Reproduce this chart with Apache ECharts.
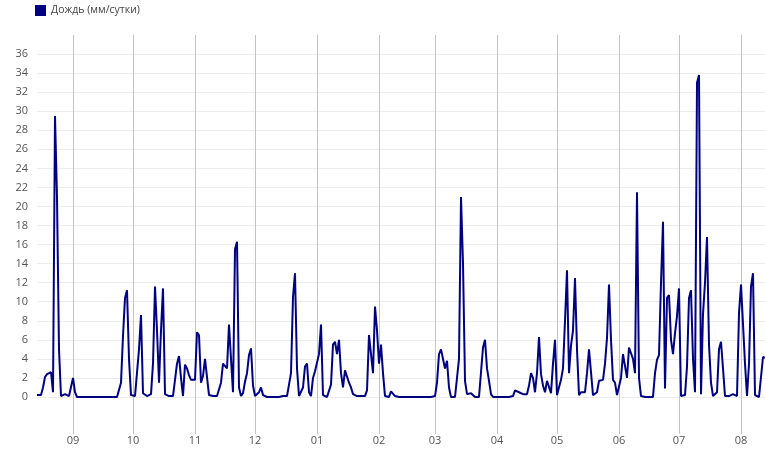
<!DOCTYPE html>
<html>
<head>
<meta charset="utf-8">
<script src="https://cdn.jsdelivr.net/npm/echarts@6/dist/echarts.min.js"></script>
<style>
html,body{margin:0;padding:0;background:#fff;}
#chart{width:765px;height:451px;}
</style>
</head>
<body>
<div id="chart"></div>
<script>
// Rain, mm/day, one value per day from 2022-08-14 to 2023-08-13
const rainAug22 = [0.2,0.2,0.2,1.0,2.1,2.4,2.6,2.6,0.5,29.5,21,5,0.1,0.1,0.3,0.1,0.1,0.1];
const rainSep = [2.0,0.5,0,0,0,0,0,0,0,0,0,0,0,0,0,0,0,0,0,0,0,0,0,0,1.5,6.4,10.4,11.2,4,0.2];
const rainOct = [0.1,0.1,0.2,5,8.6,0.4,0.2,0.1,0.1,0.3,3.5,11.6,7,1.5,7,11.4,0.3,0.1,0.1,0.1,0.1,0.1,3.5,4.3,2.0,0.1,3.4,3.0,2.3,1.8,1.8];
const rainNov = [1.8,6.8,6.5,1.5,2.2,4.0,4.2,0.2,0.1,0.1,0.1,0.1,0.1,1.5,3.5,3.7,3,7.6,4,0.5,15.5,16.3,1.0,0.1,0.4,1.6,2.5,4.4,5.1,1.2];
const rainDec = [0.1,0.1,0.5,1.0,0.2,0,0,0,0,0,0,0,0,0,0.1,0.1,0.1,0,2.5,10.5,13,3,0.1,0,1.0,3.2,3.5,0.5,0.1,2.0,2.7];
const rainJan = [2.7,4.5,7.6,0.2,0,0,0.1,1.3,5.5,5.8,4.5,6.0,2.5,1.0,2.8,3.0,1.5,1.0,0.3,0.1,0.1,0.1,0.1,0.1,0.1,0.7,6.5,4.5,2.5,9.5,7];
const rainFeb = [3.5,5.5,2.5,0.1,0,0,0.6,0.7,0.1,0,0,0,0,0,0,0,0,0,0,0,0,0.1,0,0,0,0,0,0];
const rainMar = [0.1,1.5,4.5,5.0,5.2,3.0,3.8,1.0,0,0,0,0,4.0,21,14,1.7,0.3,0.2,0.4,0.2,0,0,0,0,5.2,6.0,3.0,1.7,0.3,0,0];
const rainApr = [0,0,0,0,0,0,0,0,0.1,0.7,0.7,0.5,0.4,0.3,0.2,0.3,1.2,2.5,2.0,0.5,2.5,6.3,2.4,1.2,0.5,1.7,1.9,0.4,3.5,6.0];
const rainMay = [0.2,0.3,1.8,3.0,8.0,13.3,2.5,5.4,7,12.5,5,0.2,0.5,0.6,0.5,2.5,5.0,5.0,0.2,0.1,0.5,1.7,1.8,1.8,3.5,6.2,11.8,6.0,1.8,1.5,0.2];
const rainJun = [0,2.0,4.5,4.6,2.0,5.2,5.0,4.0,2.5,21.5,2.0,0.1,0,0,0,0,0,0,2.5,3.9,4.4,12,18.4,0.9,10.4,10.7,6.0,4.5,6.7,8.5];
const rainJul = [11.4,0.1,0.1,0.2,3.2,10.4,11.2,4,0.5,33.0,33.8,0.3,8.7,12,16.8,5.5,1.5,0.1,0,0.5,5.0,5.8,3.0,0.1,0.1,0.1,0.1,0.3,0.1,0.1,8.8];
const rainAug23 = [11.8,11.9,3.5,0.1,3.5,11.6,13,0.2,0,0,0.2,4.2,4.1];

const startDate = '2022-08-14';
const seriesName = 'Дождь (мм/сутки)';
const yTicks = {min: 0, max: 38, step: 2};

const rain = [].concat(rainAug22, rainSep, rainOct, rainNov, rainDec, rainJan, rainFeb,
  rainMar, rainApr, rainMay, rainJun, rainJul, rainAug23);

const dates = [];
const t0 = Date.parse(startDate + 'T00:00:00Z');
for (let i = 0; i < rain.length; i++) {
  dates.push(new Date(t0 + i * 86400000).toISOString().slice(0, 10));
}
const isMonthStart = (idx, val) => val.slice(8, 10) === '01';

const chart = echarts.init(document.getElementById('chart'), null, {renderer: 'canvas'});
chart.setOption({
  animation: false,
  textStyle: {fontFamily: 'Open Sans'},
  legend: {
    show: true, left: 30, top: 0, icon: 'rect', itemWidth: 11, itemHeight: 11, itemGap: 10,
    textStyle: {color: '#444', fontSize: 10.5, fontFamily: 'Open Sans'},
    data: [seriesName]
  },
  grid: {left: 37, right: 0, top: 35, bottom: 54, containLabel: false},
  xAxis: {
    type: 'category', boundaryGap: false, data: dates,
    axisLine: {show: false},
    axisTick: {show: true, interval: isMonthStart, length: 37, lineStyle: {color: '#c4c4c4', width: 1}},
    splitLine: {show: true, interval: isMonthStart, lineStyle: {color: '#c4c4c4', width: 1}},
    axisLabel: {interval: isMonthStart, formatter: v => v.slice(5, 7), color: '#555', fontSize: 11, margin: 38, fontFamily: 'Open Sans'}
  },
  yAxis: {
    type: 'value', min: yTicks.min, max: yTicks.max, interval: yTicks.step,
    axisLine: {show: false}, axisTick: {show: false},
    splitLine: {show: true, showMaxLine: false, lineStyle: {color: '#ececec', width: 1}},
    axisLabel: {showMaxLabel: false, color: '#555', fontSize: 11, margin: 9, fontFamily: 'Open Sans'}
  },
  series: [{
    name: seriesName, type: 'line', data: rain, showSymbol: false, symbol: 'none',
    lineStyle: {color: '#000080', width: 2}, itemStyle: {color: '#000080'}
  }]
});
</script>
</body>
</html>
